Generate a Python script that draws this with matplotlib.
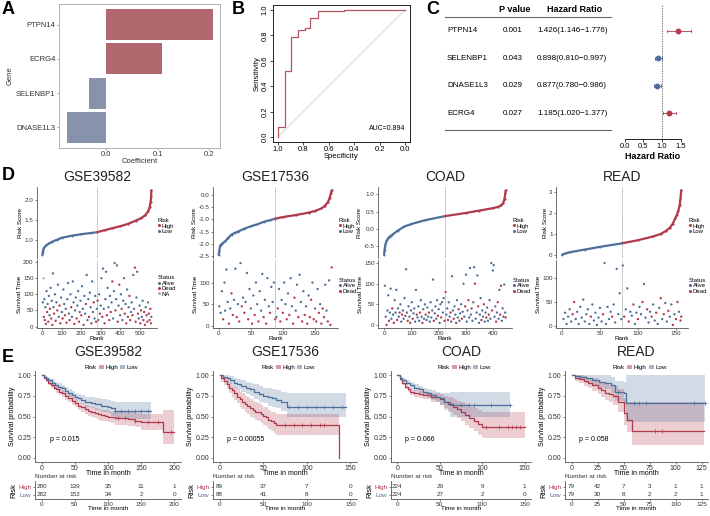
import numpy as np
import matplotlib
matplotlib.use("Agg")
from matplotlib import pyplot as plt
from matplotlib.lines import Line2D
from matplotlib.patches import Patch
from matplotlib.ticker import FormatStrFormatter

plt.rcParams['font.family'] = ['Liberation Sans', 'DejaVu Sans']

# ---------------- data ----------------
# A: lasso coefficients
genes_a = ['PTPN14', 'ECRG4', 'SELENBP1', 'DNASE1L3']
coef_a = [0.207, 0.108, -0.034, -0.076]

# B: ROC curve (specificity, sensitivity)
roc_spec = [1.0, 1.0, 0.948, 0.948, 0.896, 0.896, 0.844, 0.844, 0.79, 0.79,
            0.745, 0.745, 0.688, 0.688, 0.48, 0.48, 0.0]
roc_sens = [0.0, 0.08, 0.08, 0.517, 0.517, 0.788, 0.788, 0.84, 0.84, 0.857,
            0.857, 0.934, 0.934, 0.995, 0.995, 1.0, 1.0]
auc = 0.894

# C: univariate cox
genes_c = ['PTPN14', 'SELENBP1', 'DNASE1L3', 'ECRG4']
pval_c = ['0.001', '0.043', '0.029', '0.027']
hr_c = [1.426, 0.898, 0.877, 1.185]
hr_lo = [1.146, 0.810, 0.780, 1.020]
hr_hi = [1.776, 0.997, 0.986, 1.377]

# D: risk score curves (rank, score knots) and survival scatter (rank, time, status 0=alive 1=dead 2=NA)
cohorts = ['GSE39582', 'GSE17536', 'COAD', 'READ']
n_samples = [562, 177, 448, 158]
cutoffs = [281, 88, 224, 79]

risk_rank = [
    [0, 2, 5, 10, 20, 35, 50, 75, 100, 150, 200, 250, 281, 320, 360, 400, 440, 480, 510, 530,
     545, 552, 557, 560, 561],
    [0, 1, 2, 3, 5, 10, 15, 20, 25, 30, 40, 50, 60, 70, 80, 88, 100, 120, 140, 150, 160, 165,
     170, 173, 175, 176],
    [0, 2, 5, 10, 15, 20, 30, 50, 75, 100, 150, 224, 300, 350, 400, 420, 430, 438, 443, 446, 447],
    [0, 5, 10, 30, 50, 79, 100, 120, 130, 137, 142, 146, 149, 151, 153, 155, 156, 157],
]
risk_score = [
    [0.62, 0.70, 0.76, 0.81, 0.86, 0.91, 0.95, 1.00, 1.05, 1.10, 1.14, 1.17, 1.19, 1.24, 1.29,
     1.34, 1.40, 1.48, 1.55, 1.62, 1.72, 1.82, 1.95, 2.10, 2.25],
    [-2.45, -2.3, -2.1, -2.05, -2.0, -1.9, -1.75, -1.62, -1.55, -1.5, -1.38, -1.28, -1.2, -1.1,
     -1.03, -0.97, -0.9, -0.82, -0.72, -0.65, -0.55, -0.45, -0.3, -0.1, 0.1, 0.2],
    [-0.75, -0.6, -0.45, -0.33, -0.27, -0.23, -0.17, -0.05, 0.07, 0.14, 0.25, 0.37, 0.46, 0.53,
     0.6, 0.64, 0.68, 0.75, 0.88, 1.05, 1.12],
    [0.0, 0.07, 0.12, 0.25, 0.38, 0.55, 0.70, 0.88, 1.0, 1.15, 1.3, 1.5, 1.75, 1.9, 2.1, 2.4,
     2.7, 3.1],
]

surv_gse39582 = [
    (2, 75, 0), (5, 150, 2), (7, 30, 1), (10, 85, 0), (12, 20, 1), (15, 60, 0), (18, 8, 1), (21, 110, 0),
    (24, 45, 1), (27, 70, 0), (30, 15, 1), (33, 95, 0), (36, 35, 0), (39, 55, 1), (42, 120, 0), (45, 25, 1),
    (48, 80, 0), (51, 5, 1), (54, 165, 0), (57, 60, 0), (60, 40, 1), (64, 100, 0), (68, 18, 1), (72, 75, 0),
    (76, 50, 1), (80, 130, 0), (84, 30, 0), (88, 65, 1), (92, 10, 1), (96, 90, 0), (100, 45, 0), (104, 25, 1),
    (108, 115, 0), (112, 70, 0), (116, 35, 1), (120, 55, 0), (124, 12, 1), (128, 85, 0), (132, 135, 0),
    (136, 40, 0), (140, 20, 1), (144, 100, 0), (148, 60, 1), (152, 30, 0), (156, 140, 0), (160, 75, 0),
    (164, 8, 1), (168, 50, 0), (172, 90, 0), (176, 25, 1), (180, 65, 0), (184, 110, 0), (188, 15, 1),
    (192, 45, 0), (196, 80, 0), (200, 35, 1), (204, 125, 0), (208, 55, 0), (212, 5, 1), (216, 95, 0),
    (220, 40, 0), (224, 70, 1), (228, 160, 0), (232, 20, 0), (236, 85, 0), (240, 30, 1), (244, 105, 0),
    (248, 60, 0), (252, 10, 1), (256, 140, 0), (260, 45, 0), (264, 75, 1), (268, 25, 0), (272, 95, 0),
    (276, 15, 1), (280, 55, 0), (284, 80, 1), (288, 20, 0), (292, 100, 0), (296, 40, 1), (300, 65, 0),
    (304, 150, 0), (308, 30, 1), (312, 180, 0), (316, 55, 0), (320, 10, 1), (324, 85, 0), (328, 170, 0),
    (332, 35, 1), (336, 120, 0), (340, 60, 0), (344, 20, 1), (348, 95, 0), (352, 45, 1), (356, 75, 0),
    (360, 140, 1), (364, 25, 0), (368, 110, 0), (372, 197, 0), (376, 50, 1), (380, 85, 0), (384, 190, 0),
    (388, 15, 1), (392, 65, 0), (396, 130, 1), (400, 35, 0), (404, 100, 0), (408, 55, 1), (412, 20, 0),
    (416, 80, 0), (420, 150, 0), (424, 40, 1), (428, 70, 0), (432, 10, 1), (436, 115, 0), (440, 30, 1),
    (444, 60, 0), (448, 95, 1), (452, 20, 1), (456, 45, 0), (460, 75, 0), (464, 35, 1), (468, 160, 0),
    (472, 55, 0), (476, 183, 1), (480, 15, 1), (484, 90, 0), (488, 170, 0), (492, 40, 1), (496, 25, 0),
    (500, 65, 0), (504, 10, 1), (508, 50, 1), (512, 30, 0), (516, 80, 0), (520, 20, 1), (524, 45, 1),
    (528, 5, 1), (532, 60, 0), (536, 35, 1), (540, 15, 1), (544, 75, 0), (548, 40, 1), (552, 20, 1),
    (556, 55, 1), (559, 10, 1), (561, 30, 0),
]
surv_gse17536 = [
    (1, 45, 0), (3, 30, 0), (5, 80, 0), (7, 15, 1), (9, 100, 0), (10, 35, 0), (12, 130, 0), (14, 55, 0),
    (16, 5, 1), (18, 40, 0), (20, 75, 1), (22, 25, 1), (24, 60, 0), (26, 132, 0), (28, 20, 1), (30, 50, 0),
    (32, 10, 1), (34, 145, 0), (36, 45, 1), (38, 65, 0), (40, 30, 1), (42, 55, 0), (44, 122, 0), (46, 15, 1),
    (48, 85, 0), (50, 40, 0), (52, 5, 1), (54, 70, 0), (56, 25, 1), (58, 100, 0), (60, 50, 0), (62, 10, 1),
    (64, 80, 0), (66, 35, 0), (68, 120, 0), (70, 20, 1), (72, 60, 0), (74, 5, 1), (76, 110, 0), (78, 45, 0),
    (80, 30, 1), (82, 90, 0), (84, 55, 0), (86, 100, 0), (88, 15, 1), (90, 20, 0), (92, 40, 1), (94, 85, 0),
    (96, 10, 1), (98, 60, 0), (100, 30, 1), (102, 100, 0), (104, 50, 0), (106, 15, 1), (108, 75, 0),
    (110, 25, 1), (112, 110, 0), (114, 45, 0), (116, 5, 1), (118, 65, 1), (120, 35, 0), (122, 95, 0),
    (124, 20, 1), (126, 118, 0), (128, 55, 0), (130, 10, 1), (132, 80, 0), (134, 25, 1), (136, 45, 0),
    (138, 5, 1), (140, 70, 0), (142, 20, 1), (144, 60, 1), (146, 100, 0), (148, 15, 1), (150, 40, 0),
    (152, 10, 1), (154, 85, 0), (156, 30, 1), (158, 50, 0), (160, 5, 1), (162, 40, 1), (164, 20, 1),
    (166, 95, 0), (168, 35, 0), (170, 10, 1), (172, 105, 0), (174, 2, 1), (176, 135, 1),
]
surv_coad = [
    (3, 95, 0), (6, 20, 0), (9, 0, 1), (12, 35, 0), (15, 72, 0), (18, 10, 1), (21, 30, 0), (24, 88, 0),
    (27, 15, 0), (30, 40, 1), (33, 25, 0), (36, 5, 1), (39, 60, 0), (42, 30, 0), (45, 85, 0), (48, 12, 1),
    (51, 40, 0), (54, 20, 0), (57, 30, 1), (60, 50, 0), (63, 8, 0), (66, 25, 1), (69, 35, 0), (72, 15, 0),
    (75, 65, 0), (78, 22, 1), (81, 135, 0), (84, 30, 0), (87, 10, 1), (90, 45, 0), (93, 20, 0), (96, 5, 1),
    (99, 35, 0), (102, 55, 0), (105, 15, 1), (108, 28, 0), (111, 40, 0), (114, 8, 0), (117, 85, 0),
    (120, 25, 1), (123, 18, 0), (126, 45, 0), (129, 10, 0), (132, 30, 1), (135, 60, 0), (138, 20, 0),
    (141, 5, 1), (144, 38, 0), (147, 15, 0), (150, 50, 0), (153, 25, 1), (156, 12, 0), (159, 42, 0),
    (162, 20, 0), (165, 30, 1), (168, 8, 0), (171, 55, 0), (174, 18, 0), (177, 35, 0), (180, 110, 0),
    (183, 10, 1), (186, 28, 0), (189, 45, 0), (192, 15, 0), (195, 60, 0), (198, 22, 1), (201, 38, 0),
    (204, 5, 0), (207, 50, 0), (210, 18, 1), (213, 55, 0), (216, 30, 0), (219, 65, 0), (222, 10, 1),
    (226, 80, 1), (229, 25, 0), (232, 40, 0), (235, 12, 1), (238, 55, 0), (241, 20, 0), (244, 30, 1),
    (247, 8, 0), (250, 118, 0), (253, 35, 0), (256, 15, 1), (259, 45, 0), (262, 25, 0), (265, 5, 1),
    (268, 60, 0), (271, 18, 0), (274, 38, 1), (277, 10, 0), (280, 28, 0), (283, 50, 0), (286, 15, 1),
    (289, 32, 0), (292, 100, 0), (295, 20, 0), (298, 45, 1), (301, 122, 0), (304, 8, 0), (307, 35, 0),
    (310, 60, 1), (313, 18, 0), (316, 138, 0), (319, 25, 0), (322, 40, 1), (325, 10, 0), (328, 55, 0),
    (331, 140, 0), (334, 100, 1), (337, 15, 0), (340, 30, 0), (343, 120, 0), (346, 45, 1), (349, 5, 0),
    (352, 25, 0), (355, 65, 0), (358, 12, 1), (361, 35, 0), (364, 20, 0), (367, 50, 1), (370, 8, 0),
    (373, 30, 0), (376, 18, 1), (379, 42, 0), (382, 10, 0), (385, 25, 1), (388, 60, 0), (391, 15, 0),
    (394, 150, 0), (397, 35, 1), (400, 132, 0), (403, 145, 0), (406, 20, 0), (409, 45, 0), (412, 8, 1),
    (415, 30, 0), (418, 55, 1), (421, 15, 0), (424, 85, 0), (427, 25, 1), (430, 95, 1), (433, 10, 0),
    (436, 40, 0), (439, 20, 1), (442, 98, 0), (445, 30, 0), (447, 18, 1),
]
surv_read = [
    (2, 15, 0), (4, 28, 0), (6, 5, 0), (8, 20, 0), (10, 35, 0), (12, 10, 0), (14, 25, 1), (16, 50, 1),
    (18, 15, 0), (20, 30, 0), (22, 5, 0), (24, 40, 0), (26, 18, 0), (28, 55, 0), (30, 10, 0), (32, 25, 0),
    (34, 35, 0), (36, 5, 0), (38, 20, 1), (40, 45, 0), (42, 12, 0), (44, 28, 0), (46, 3, 0), (48, 18, 0),
    (50, 38, 0), (52, 10, 0), (54, 25, 1), (56, 130, 0), (58, 5, 0), (60, 40, 0), (62, 15, 0), (64, 30, 0),
    (66, 20, 1), (68, 45, 0), (70, 8, 0), (72, 118, 0), (74, 25, 0), (76, 68, 0), (78, 15, 0), (80, 125, 0),
    (82, 20, 1), (84, 35, 0), (86, 78, 0), (88, 10, 1), (90, 30, 0), (92, 22, 0), (94, 45, 1), (96, 5, 0),
    (98, 28, 0), (100, 15, 1), (102, 40, 0), (104, 25, 0), (106, 50, 1), (108, 87, 0), (110, 18, 0),
    (112, 35, 1), (114, 8, 0), (116, 30, 0), (118, 20, 1), (120, 45, 0), (122, 12, 0), (124, 28, 1),
    (126, 5, 0), (128, 38, 0), (130, 58, 1), (132, 15, 0), (134, 25, 1), (136, 48, 0), (138, 10, 0),
    (140, 32, 1), (142, 20, 0), (144, 45, 0), (146, 3, 1), (148, 25, 0), (150, 15, 1), (152, 50, 1),
    (154, 30, 0), (156, 12, 1), (157, 20, 1),
]
surv_points = [surv_gse39582, surv_gse17536, surv_coad, surv_read]

# E: Kaplan-Meier curves (time, survival, lower CI, upper CI) for High / Low
km_high_t = [
    [0, 3, 6, 10, 14, 18, 22, 26, 30, 35, 40, 45, 50, 55, 60, 65, 70, 75, 80, 85, 90, 95, 100, 105, 110,
     120, 130, 140, 150, 160, 175, 183, 200],
    [0, 2, 5, 8, 11, 14, 17, 20, 23, 26, 29, 32, 35, 38, 41, 44, 47, 50, 53, 56, 59, 62, 65, 137],
    [0, 3, 6, 9, 12, 15, 20, 25, 30, 40, 50, 55, 60, 65, 70, 75, 80, 85, 90, 95, 100, 150],
    [0, 3, 7, 12, 16, 20, 25, 28, 32, 36, 40, 45, 50, 53, 58, 127],
]
km_high_s = [
    [1.0, 0.97, 0.94, 0.91, 0.88, 0.85, 0.83, 0.80, 0.78, 0.75, 0.72, 0.69, 0.66, 0.63, 0.61, 0.59, 0.57,
     0.56, 0.54, 0.53, 0.52, 0.51, 0.50, 0.49, 0.48, 0.48, 0.47, 0.45, 0.43, 0.43, 0.43, 0.31, 0.31],
    [1.0, 0.96, 0.93, 0.89, 0.85, 0.82, 0.78, 0.74, 0.71, 0.68, 0.65, 0.63, 0.60, 0.58, 0.56, 0.55, 0.53,
     0.51, 0.49, 0.46, 0.44, 0.42, 0.40, 0.0],
    [1.0, 0.95, 0.90, 0.86, 0.83, 0.80, 0.78, 0.77, 0.76, 0.73, 0.71, 0.68, 0.65, 0.62, 0.59, 0.56, 0.52,
     0.48, 0.45, 0.41, 0.37, 0.37],
    [1.0, 0.97, 0.95, 0.93, 0.90, 0.88, 0.85, 0.82, 0.79, 0.77, 0.75, 0.68, 0.54, 0.46, 0.33, 0.33],
]
km_high_lo = [
    [1.0, 0.95, 0.92, 0.88, 0.85, 0.82, 0.79, 0.76, 0.73, 0.70, 0.67, 0.64, 0.61, 0.58, 0.55, 0.53, 0.51,
     0.50, 0.48, 0.46, 0.45, 0.44, 0.43, 0.42, 0.40, 0.40, 0.39, 0.37, 0.34, 0.34, 0.34, 0.17, 0.17],
    [1.0, 0.92, 0.88, 0.83, 0.78, 0.74, 0.70, 0.66, 0.62, 0.59, 0.56, 0.53, 0.50, 0.48, 0.46, 0.44, 0.42,
     0.40, 0.38, 0.35, 0.33, 0.30, 0.28, 0.0],
    [1.0, 0.93, 0.88, 0.83, 0.80, 0.76, 0.74, 0.72, 0.71, 0.67, 0.64, 0.60, 0.56, 0.52, 0.48, 0.45, 0.40,
     0.36, 0.32, 0.28, 0.24, 0.24],
    [1.0, 0.93, 0.90, 0.87, 0.84, 0.81, 0.77, 0.74, 0.70, 0.67, 0.64, 0.56, 0.40, 0.31, 0.15, 0.15],
]
km_high_hi = [
    [1.0, 0.99, 0.97, 0.94, 0.91, 0.89, 0.87, 0.84, 0.82, 0.79, 0.77, 0.74, 0.71, 0.68, 0.66, 0.64, 0.63,
     0.62, 0.60, 0.59, 0.58, 0.58, 0.57, 0.56, 0.56, 0.56, 0.55, 0.54, 0.53, 0.53, 0.53, 0.58, 0.58],
    [1.0, 1.0, 0.98, 0.95, 0.92, 0.89, 0.86, 0.83, 0.80, 0.78, 0.75, 0.73, 0.71, 0.69, 0.67, 0.66, 0.64,
     0.62, 0.61, 0.58, 0.56, 0.55, 0.53, 0.0],
    [1.0, 0.98, 0.94, 0.90, 0.87, 0.84, 0.82, 0.81, 0.80, 0.78, 0.77, 0.75, 0.73, 0.71, 0.69, 0.67, 0.65,
     0.62, 0.60, 0.58, 0.56, 0.56],
    [1.0, 1.0, 1.0, 0.99, 0.97, 0.96, 0.94, 0.92, 0.90, 0.88, 0.87, 0.83, 0.72, 0.67, 0.67, 0.67],
]
km_low_t = [
    [0, 3, 6, 10, 15, 20, 25, 30, 35, 40, 45, 50, 55, 60, 65, 70, 75, 80, 90, 100, 105, 110, 165],
    [0, 4, 8, 12, 16, 20, 25, 30, 35, 40, 45, 50, 55, 60, 65, 70, 77, 145],
    [0, 3, 6, 10, 15, 20, 25, 30, 35, 40, 45, 50, 55, 62, 133],
    [0, 3, 8, 14, 20, 26, 32, 38, 42, 50, 52, 128],
]
km_low_s = [
    [1.0, 0.98, 0.96, 0.94, 0.91, 0.88, 0.86, 0.84, 0.81, 0.78, 0.76, 0.74, 0.72, 0.70, 0.68, 0.67, 0.66,
     0.65, 0.63, 0.62, 0.60, 0.57, 0.57],
    [1.0, 0.98, 0.96, 0.94, 0.91, 0.89, 0.87, 0.85, 0.83, 0.80, 0.77, 0.75, 0.73, 0.72, 0.70, 0.68, 0.62, 0.62],
    [1.0, 0.97, 0.94, 0.91, 0.88, 0.85, 0.83, 0.80, 0.78, 0.76, 0.74, 0.72, 0.68, 0.64, 0.64],
    [1.0, 0.99, 0.98, 0.96, 0.94, 0.92, 0.91, 0.88, 0.80, 0.78, 0.66, 0.66],
]
km_low_lo = [
    [1.0, 0.96, 0.94, 0.91, 0.88, 0.85, 0.82, 0.80, 0.77, 0.74, 0.71, 0.69, 0.67, 0.65, 0.62, 0.61, 0.60,
     0.58, 0.56, 0.54, 0.51, 0.47, 0.47],
    [1.0, 0.95, 0.92, 0.89, 0.85, 0.83, 0.80, 0.77, 0.75, 0.71, 0.68, 0.66, 0.63, 0.62, 0.60, 0.57, 0.49, 0.49],
    [1.0, 0.95, 0.92, 0.88, 0.85, 0.81, 0.79, 0.75, 0.72, 0.70, 0.67, 0.64, 0.58, 0.49, 0.49],
    [1.0, 0.97, 0.94, 0.91, 0.88, 0.85, 0.83, 0.79, 0.69, 0.66, 0.43, 0.43],
]
km_low_hi = [
    [1.0, 1.0, 0.99, 0.97, 0.95, 0.92, 0.90, 0.88, 0.86, 0.83, 0.81, 0.79, 0.77, 0.76, 0.74, 0.73, 0.73,
     0.72, 0.71, 0.70, 0.69, 0.68, 0.68],
    [1.0, 1.0, 1.0, 0.99, 0.97, 0.95, 0.94, 0.92, 0.91, 0.89, 0.87, 0.85, 0.84, 0.83, 0.82, 0.80, 0.78, 0.78],
    [1.0, 0.99, 0.97, 0.94, 0.92, 0.89, 0.87, 0.85, 0.83, 0.82, 0.80, 0.79, 0.78, 0.80, 0.80],
    [1.0, 1.0, 1.0, 1.0, 1.0, 1.0, 1.0, 0.98, 0.93, 0.92, 1.0, 1.0],
]
censor_high = [[115, 125, 140, 160, 175, 195], [75, 85, 95, 105, 115, 120],
               [105, 120, 130, 135, 140, 145], [80, 87]]
censor_low = [[110, 120, 130, 140, 150, 160], [80, 90, 100, 110, 120, 130, 140],
              [65, 75, 85, 90, 110, 133], [45, 60, 65, 72, 118, 128]]
pvals_e = ['p = 0.015', 'p = 0.00055', 'p = 0.066', 'p = 0.058']
risk_times = [[0, 50, 100, 150, 200], [0, 50, 100, 150], [0, 50, 100, 150], [0, 25, 50, 75, 100, 125]]
risk_high = [[280, 139, 35, 11, 1], [89, 37, 7, 0], [224, 29, 9, 1], [79, 42, 7, 3, 1, 1]]
risk_low = [[282, 152, 34, 2, 0], [88, 41, 8, 0], [224, 27, 2, 0], [79, 30, 8, 2, 2, 1]]

# ---------------- style ----------------
W, H = 710, 516
BAR_RED = '#b0686e'
BAR_BLUE = '#8793ab'
RED = '#b0394c'
BLUE = '#4d6f99'
TXT = '#333333'
AX = '#555555'

fig = plt.figure(figsize=(W / 100, H / 100), dpi=100)


def px_axes(x0, y0, x1, y1):
    return fig.add_axes([x0 / W, 1 - y1 / H, (x1 - x0) / W, (y1 - y0) / H])


def ftext(x, y, s, **kw):
    fig.text(x / W, 1 - y / H, s, **kw)


def gg_axes(ax, fs=4.5):
    for side in ['top', 'right']:
        ax.spines[side].set_visible(False)
    for side in ['left', 'bottom']:
        ax.spines[side].set_color(AX)
        ax.spines[side].set_linewidth(0.6)
    ax.tick_params(length=1.5, width=0.5, color=AX, labelsize=fs, pad=1, labelcolor=TXT)


# panel letters
for letter, x, y in [('A', 2, 14), ('B', 232, 14), ('C', 426, 14), ('D', 2, 180), ('E', 2, 362)]:
    ftext(x, y, letter, fontsize=13, fontweight='bold')

# ---------------- A ----------------
ax = px_axes(59, 4, 220, 148)
ypos = np.arange(len(genes_a), 0, -1)
ax.barh(ypos, coef_a, height=0.9, color=[BAR_RED if c > 0 else BAR_BLUE for c in coef_a])
ax.set_ylim(0.4, 4.6)
ax.set_xlim(-0.0918, 0.2208)
ax.set_yticks(ypos)
ax.set_yticklabels(genes_a)
ax.set_xticks([0, 0.1, 0.2])
ax.set_xticklabels(['0.0', '0.1', '0.2'])
for s in ax.spines.values():
    s.set_color('#b0b0b0')
    s.set_linewidth(0.7)
ax.tick_params(length=1.5, width=0.5, color='#777777', labelsize=5.5, pad=1, labelcolor=TXT)
ax.set_xlabel('Coefficient', fontsize=5.5, labelpad=0, color=TXT)
ax.set_ylabel('Gene', fontsize=5.5, labelpad=2, color=TXT)

# ---------------- B ----------------
ax = px_axes(273, 5, 410, 142)
ax.plot([1, 0], [0, 1], color='#cfcfcf', lw=0.6)
ax.plot(roc_spec, roc_sens, color='#b55560', lw=0.9)
ax.set_xlim(1.04, -0.04)
ax.set_ylim(-0.04, 1.04)
ticks = [1.0, 0.8, 0.6, 0.4, 0.2, 0.0]
ax.set_xticks(ticks)
ax.set_yticks(ticks)
ax.xaxis.set_major_formatter(FormatStrFormatter('%.1f'))
ax.yaxis.set_major_formatter(FormatStrFormatter('%.1f'))
for lab in ax.get_yticklabels():
    lab.set_rotation(90)
    lab.set_va('center')
for s in ax.spines.values():
    s.set_linewidth(0.6)
ax.tick_params(length=2, width=0.5, labelsize=5.5, pad=1)
ax.set_xlabel('Specificity', fontsize=5.5, labelpad=0)
ax.set_ylabel('Sensitivity', fontsize=5.5, labelpad=1)
ax.text(0.0, 0.04, f'AUC={auc}', fontsize=5, ha='right', va='bottom')

# ---------------- C ----------------
rows = np.arange(len(genes_c), 0, -1)
tab = px_axes(440, 5, 625, 139)
tab.set_xlim(440, 625)
tab.set_ylim(0.05, 4.95)
tab.axis('off')
tab.text(515, 4.8, 'P value', fontsize=6.5, fontweight='bold', ha='center', va='center')
tab.text(575, 4.8, 'Hazard Ratio', fontsize=6.5, fontweight='bold', ha='center', va='center')
tab.plot([445, 622], [4.51, 4.51], color='#666666', lw=0.8)
tab.plot([445, 622], [0.38, 0.38], color='#666666', lw=0.8)
for r, g, p, h, lo, hi in zip(rows, genes_c, pval_c, hr_c, hr_lo, hr_hi):
    tab.text(447, r, g, fontsize=5.8, va='center')
    tab.text(513, r, p, fontsize=5.8, va='center', ha='center')
    tab.text(537, r, f'{h:.3f}({lo:.3f}\u2212{hi:.3f})', fontsize=5.8, va='center')

ax = px_axes(612, 5, 705, 139)
ax.set_xlim(-0.351, 2.162)
ax.set_ylim(0.05, 4.95)
cols = [RED if h > 1 else BLUE for h in hr_c]
for r, h, lo, hi, c in zip(rows, hr_c, hr_lo, hr_hi, cols):
    ax.plot([lo, hi], [r, r], color=c, lw=0.6)
    ax.plot([lo, lo], [r - 0.05, r + 0.05], color=c, lw=0.6)
    ax.plot([hi, hi], [r - 0.05, r + 0.05], color=c, lw=0.6)
    ax.plot(h, r, 'o', color=c, ms=3.2)
ax.axvline(1, color='#555555', ls=(0, (1.5, 1.5)), lw=0.6)
for side in ['top', 'right', 'left']:
    ax.spines[side].set_visible(False)
ax.spines['bottom'].set_bounds(0, 1.5)
ax.spines['bottom'].set_linewidth(0.6)
ax.set_yticks([])
ax.set_xticks([0, 0.5, 1.0, 1.5])
ax.xaxis.set_major_formatter(FormatStrFormatter('%.1f'))
ax.tick_params(length=2, width=0.5, labelsize=5.5, pad=1)
ax.set_xlabel('Hazard Ratio', fontsize=6.5, fontweight='bold', labelpad=0)
ax.xaxis.set_label_coords((0.75 + 0.351) / 2.513, -0.1)

# ---------------- D ----------------
d_cols = [(37, 157), (213, 338), (378, 512), (556, 688)]
risk_ticks = [[1.0, 1.5, 2.0], [-2.5, -2.0, -1.5, -1.0, -0.5, 0.0], [-0.5, 0.0, 0.5, 1.0], [0, 1, 2, 3]]
risk_fmt = ['%.1f', '%.1f', '%.1f', '%d']
rank_ticks = [[0, 100, 200, 300, 400, 500], [0, 50, 100, 150], [0, 100, 200, 300, 400], [0, 50, 100, 150]]
time_ticks = [[0, 50, 100, 150, 200], [0, 50, 100], [0, 50, 100, 150], [0, 50, 100]]
status_col = {0: BLUE, 1: RED, 2: '#b9a9b0'}

for i, (x0, x1) in enumerate(d_cols):
    n = n_samples[i]
    cut = cutoffs[i]
    xl = (-0.05 * n, 1.05 * n)
    ftext((x0 + x1) / 2, 177, cohorts[i], fontsize=10, ha='center', va='center', color='#222222')

    # risk score
    ax = px_axes(x0, 187, x1, 258)
    rr = np.array(risk_rank[i])
    rs = np.array(risk_score[i])
    lowm = rr <= cut
    ax.plot(rr[lowm], rs[lowm], color=BLUE, lw=1.6, solid_capstyle='round',
            marker='o', ms=1.4, mew=0)
    hi_idx = np.where(~lowm)[0]
    hi_idx = np.concatenate([[hi_idx[0] - 1], hi_idx])
    ax.plot(rr[hi_idx[1:]], rs[hi_idx[1:]], ls='', marker='o', ms=1.6, mew=0, color=RED)
    ax.plot(rr[hi_idx], rs[hi_idx], color=RED, lw=1.6, solid_capstyle='round')
    ax.axvline(cut, color='#888888', ls=(0, (1, 1)), lw=0.6)
    ax.set_xlim(*xl)
    gg_axes(ax)
    ax.spines['bottom'].set_visible(False)
    ax.set_xticks([])
    ax.set_yticks(risk_ticks[i])
    ax.yaxis.set_major_formatter(FormatStrFormatter(risk_fmt[i]))
    ax.set_ylabel('Risk Score', fontsize=4.5, labelpad=1)
    hd = [Line2D([], [], marker='o', ls='', color=RED, ms=1.2, label='High'),
          Line2D([], [], marker='o', ls='', color=BLUE, ms=1.2, label='Low')]
    leg = ax.legend(handles=hd, title='Risk', loc='center left', bbox_to_anchor=(1.0, 0.45),
                    frameon=False, fontsize=4.3, title_fontsize=4.3, handlelength=0.4,
                    handletextpad=0.25, labelspacing=0.05, borderpad=0, borderaxespad=0.15)
    leg._legend_box.align = 'left'

    # survival time
    ax = px_axes(x0, 260, x1, 328)
    pts = surv_points[i]
    rk = np.array([p[0] for p in pts])
    tm = np.array([p[1] for p in pts])
    st = [p[2] for p in pts]
    ax.scatter(rk, tm, s=2.8, c=[status_col[s] for s in st], linewidths=0)
    ax.axvline(cut, color='#888888', ls=(0, (1, 1)), lw=0.6)
    ax.set_xlim(*xl)
    gg_axes(ax)
    ax.set_xticks(rank_ticks[i])
    ax.set_yticks(time_ticks[i])
    ax.set_xlabel('Rank', fontsize=4.5, labelpad=0)
    ax.set_ylabel('Survival Time', fontsize=4.5, labelpad=1)
    hd = [Line2D([], [], marker='o', ls='', color=BLUE, ms=1.2, label='Alive'),
          Line2D([], [], marker='o', ls='', color=RED, ms=1.2, label='Dead')]
    if 2 in st:
        hd.append(Line2D([], [], marker='o', ls='', color=status_col[2], ms=1.2, label='NA'))
    leg = ax.legend(handles=hd, title='Status', loc='center left', bbox_to_anchor=(1.0, 0.62),
                    frameon=False, fontsize=4.3, title_fontsize=4.3, handlelength=0.4,
                    handletextpad=0.25, labelspacing=0.05, borderpad=0, borderaxespad=0.15)
    leg._legend_box.align = 'left'

# ---------------- E ----------------
e_cols = [(35, 181), (213, 357), (391, 531), (565, 708)]


def step_val(t, s, x):
    return np.array(s)[np.searchsorted(t, x, side='right') - 1]


for i, (x0, x1) in enumerate(e_cols):
    tmax = risk_times[i][-1]
    xl = (-0.05 * tmax, 1.05 * tmax)
    ftext((x0 + x1) / 2, 352, cohorts[i], fontsize=10, ha='center', va='center', color='#222222')

    ax = px_axes(x0, 371, x1, 462)
    for t, s, lo, hi, cen, c in [
        (km_high_t[i], km_high_s[i], km_high_lo[i], km_high_hi[i], censor_high[i], RED),
        (km_low_t[i], km_low_s[i], km_low_lo[i], km_low_hi[i], censor_low[i], BLUE),
    ]:
        ax.fill_between(t, lo, hi, step='post', color=c, alpha=0.25, lw=0)
        ax.step(t, s, where='post', color=c, lw=0.9)
        ax.plot(cen, step_val(t, s, cen), '+', color=c, ms=2.2, mew=0.5)
    ax.set_xlim(*xl)
    ax.set_ylim(-0.05, 1.05)
    gg_axes(ax, fs=5)
    ax.set_xticks(risk_times[i])
    ax.set_yticks([0, 0.25, 0.5, 0.75, 1.0])
    ax.yaxis.set_major_formatter(FormatStrFormatter('%.2f'))
    ax.tick_params(axis='x', pad=0.5)
    ax.set_xlabel('Time in month', fontsize=5, labelpad=-1)
    ax.set_ylabel('Survival probability', fontsize=5, labelpad=1)
    ax.text(0.06 * tmax, 0.22, pvals_e[i], fontsize=5, va='center')
    hd = [Patch(visible=False), Patch(facecolor=RED, alpha=0.5), Patch(facecolor=BLUE, alpha=0.5)]
    ax.legend(hd, ['Risk', 'High', 'Low'], ncol=3, loc='lower center', bbox_to_anchor=(0.5, 1.0),
              frameon=False, fontsize=4.5, handlelength=0.8, handleheight=0.6, handletextpad=0.2,
              columnspacing=0.4, borderpad=0, borderaxespad=0.2)

    # risk table
    ax = px_axes(x0, 481, x1, 499)
    ax.set_xlim(*xl)
    ax.set_ylim(-0.55, 1.7)
    for t, nh, nl in zip(risk_times[i], risk_high[i], risk_low[i]):
        ax.text(t, 1, str(nh), fontsize=4.6, ha='center', va='center', color=TXT)
        ax.text(t, 0, str(nl), fontsize=4.6, ha='center', va='center', color=TXT)
    gg_axes(ax, fs=4.6)
    ax.tick_params(axis='x', pad=0.3)
    ax.set_xticks(risk_times[i])
    ax.set_yticks([1, 0])
    ax.set_yticklabels(['High', 'Low'])
    ax.get_yticklabels()[0].set_color(RED)
    ax.get_yticklabels()[1].set_color(BLUE)
    ax.set_ylabel('Risk', fontsize=5.5, labelpad=1)
    ax.set_xlabel('Time in month', fontsize=4.6, labelpad=0)
    ftext(x0, 477, 'Number at risk', fontsize=4.6, va='center', color=TXT)

fig.savefig('out.png', dpi=100)
